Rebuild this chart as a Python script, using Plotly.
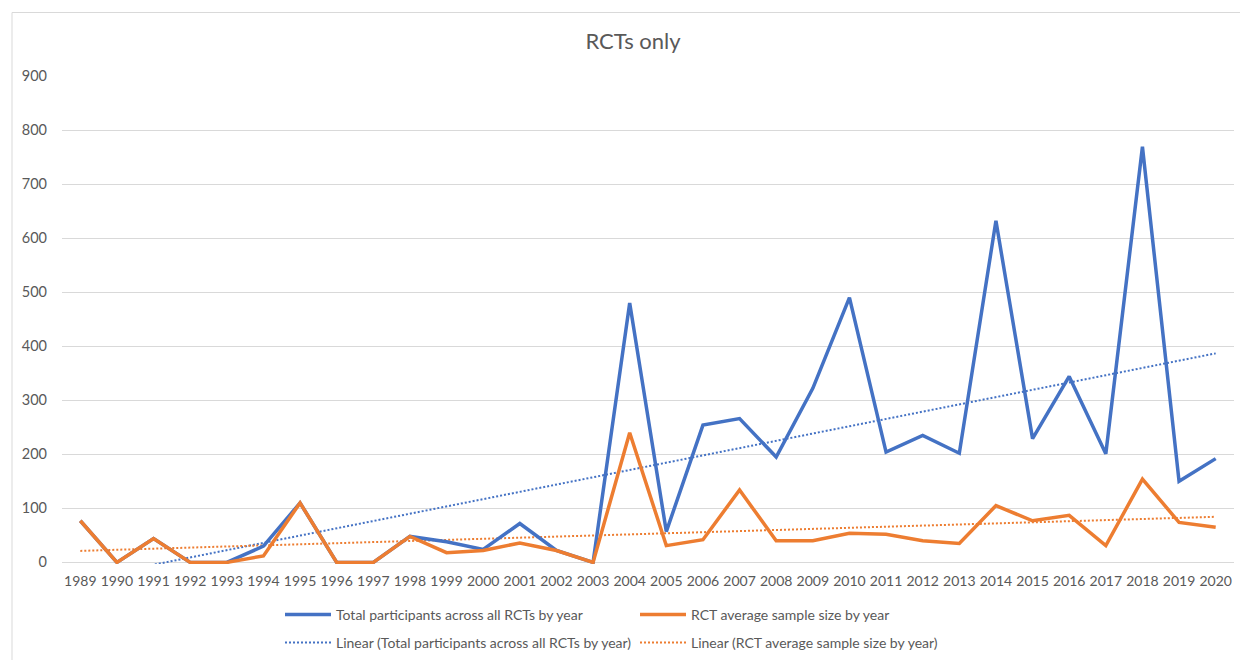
import numpy as np
import plotly.graph_objects as go

years = [str(y) for y in range(1989, 2021)]
total_participants = [77, 0, 44, 0, 0, 30, 110, 0, 0, 48, 38, 24, 72, 22, 0, 480,
                      57, 254, 266, 195, 322, 490, 204, 235, 202, 632, 229, 344, 201, 769, 150, 192]
avg_sample_size = [77, 0, 44, 0, 0, 12, 110, 0, 0, 48, 18, 22, 36, 22, 0, 240,
                   31, 42, 134, 40, 40, 54, 52, 40, 35, 105, 77, 87, 31, 154, 74, 65]
y_ticks = [0, 100, 200, 300, 400, 500, 600, 700, 800, 900]

BLUE = "#4472C4"
ORANGE = "#ED7D31"
GREY = "#595959"
FONT = "Lato"

idx = np.arange(len(years))
fit_total = np.polyval(np.polyfit(idx, total_participants, 1), idx)
fit_avg = np.polyval(np.polyfit(idx, avg_sample_size, 1), idx)

fig = go.Figure()
fig.add_trace(go.Scatter(x=years, y=fit_total, mode="lines",
                         name="Linear (Total participants across all RCTs by year)",
                         line=dict(color=BLUE, width=2, dash="2px,2px"), legend="legend3",
                         showlegend=True))
fig.add_trace(go.Scatter(x=years, y=fit_avg, mode="lines",
                         name="Linear (RCT average sample size by year)",
                         line=dict(color=ORANGE, width=2, dash="2px,2px"), legend="legend4",
                         showlegend=True))
fig.add_trace(go.Scatter(x=years, y=total_participants, mode="lines",
                         name="Total participants across all RCTs by year",
                         line=dict(color=BLUE, width=3.5), legend="legend", showlegend=True))
fig.add_trace(go.Scatter(x=years, y=avg_sample_size, mode="lines",
                         name="RCT average sample size by year",
                         line=dict(color=ORANGE, width=3.5), legend="legend2", showlegend=True))

# page has an 8px body margin: figure pixel = reference pixel - 8
W, H = 1240, 652
L, T, B, R = 54, 68, 96, 14
PW, PH = W - L - R, H - T - B

def leg(px, py):
    return dict(x=px / W, y=1 - py / H, xref="container", yref="container",
                xanchor="left", yanchor="middle", orientation="h",
                font=dict(family=FONT, size=14, color=GREY), bgcolor="rgba(0,0,0,0)",
                itemwidth=46)

top_border = (H - B - 4.5) / PH
left_border = (4 - L) / PW

fig.update_layout(
    width=W, height=H,
    showlegend=True,
    margin=dict(l=L, r=R, t=T, b=B, autoexpand=False),
    paper_bgcolor="white", plot_bgcolor="white",
    title=dict(text="RCTs only", x=(633 - 8) / W, xanchor="center", y=1 - 33 / H, yanchor="middle",
               font=dict(family=FONT, size=22, color=GREY)),
    font=dict(family=FONT, size=14, color=GREY),
    xaxis=dict(type="category", showgrid=False, showline=False, ticks="", automargin=False,
               tickangle=0,
               tickfont=dict(family=FONT, size=14, color=GREY), ticklabelstandoff=7,
               range=[-0.5, len(years) - 0.5]),
    yaxis=dict(range=[-3, 900], tickvals=y_ticks, showgrid=True, gridcolor="#D9D9D9",
               gridwidth=1, zeroline=False, showline=False, ticks="", automargin=False,
               tickfont=dict(family=FONT, size=14.5, color=GREY), ticklabelstandoff=14),
    legend=leg(272, 607),
    legend2=leg(627, 607),
    legend3=leg(272, 635),
    legend4=leg(627, 635),
    shapes=[
        dict(type="line", xref="paper", yref="paper", x0=left_border, x1=(W + 2 - L) / PW,
             y0=top_border, y1=top_border, line=dict(color="#D9D9D9", width=1)),
        dict(type="line", xref="paper", yref="paper", x0=left_border, x1=left_border,
             y0=top_border, y1=-(B + 2) / PH, line=dict(color="#D9D9D9", width=1)),
    ],
)

fig.write_html("out.html")
